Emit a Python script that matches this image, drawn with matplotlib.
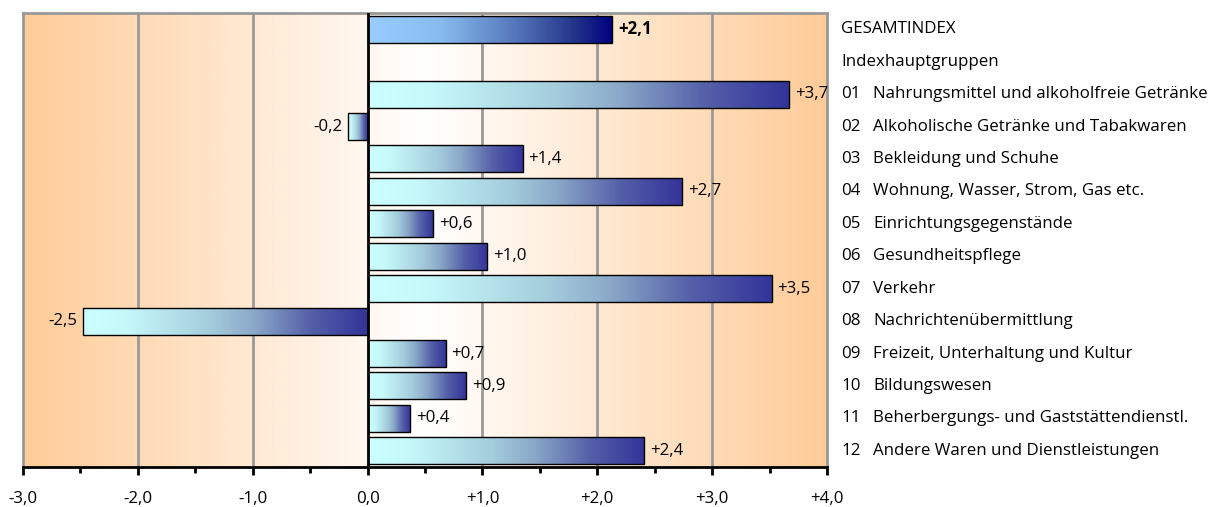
import numpy as np
import matplotlib
matplotlib.use('Agg')
import matplotlib.pyplot as plt
from matplotlib.colors import LinearSegmentedColormap
from matplotlib.patches import Rectangle
from matplotlib.ticker import MultipleLocator

plt.rcParams['font.family'] = ['Open Sans', 'DejaVu Sans']

# Data: rows from top to bottom (None = heading row without bar)
codes = ['', '', '01', '02', '03', '04', '05', '06', '07', '08', '09', '10', '11', '12']
names = ['GESAMTINDEX', 'Indexhauptgruppen',
         'Nahrungsmittel und alkoholfreie Getränke',
         'Alkoholische Getränke und Tabakwaren',
         'Bekleidung und Schuhe',
         'Wohnung, Wasser, Strom, Gas etc.',
         'Einrichtungsgegenstände',
         'Gesundheitspflege',
         'Verkehr',
         'Nachrichtenübermittlung',
         'Freizeit, Unterhaltung und Kultur',
         'Bildungswesen',
         'Beherbergungs- und Gaststättendienstl.',
         'Andere Waren und Dienstleistungen']
values = [2.13, None, 3.67, -0.17, 1.35, 2.74, 0.57, 1.04, 3.52, -2.48, 0.68, 0.86, 0.37, 2.41]
value_labels = ['+2,1', '', '+3,7', '-0,2', '+1,4', '+2,7', '+0,6', '+1,0',
                '+3,5', '-2,5', '+0,7', '+0,9', '+0,4', '+2,4']
xticks = [-3, -2, -1, 0, 1, 2, 3, 4]
xtick_labels = ['-3,0', '-2,0', '-1,0', '0,0', '+1,0', '+2,0', '+3,0', '+4,0']

FS = 12.2
W, H = 1220, 507
fig = plt.figure(figsize=(W / 100, H / 100), dpi=100)
ax = fig.add_axes([23 / W, 1 - 467 / H, (827 - 23) / W, (467 - 13) / H])
ax.set_xlim(-3, 4)
ax.set_ylim(13.5, -0.5)

# background gradient: orange at both edges, white in the middle
bg = LinearSegmentedColormap.from_list('bg', ['#FFCC99', '#FFFFFF', '#FFCC99'])
grad = np.linspace(0, 1, 512).reshape(1, -1)
ax.imshow(grad, cmap=bg, extent=(0, 1, 0, 1), transform=ax.transAxes,
          aspect='auto', zorder=0, interpolation='bilinear')

for x in [-2, -1, 1, 2, 3]:
    ax.axvline(x, color='#999999', lw=2, zorder=1)

cat_cmap = LinearSegmentedColormap.from_list(
    'cat', [(0, '#CCFFFF'), (0.15, '#C6F8FA'), (0.45, '#A4CCDC'),
            (0.6, '#8AA8C8'), (0.8, '#5560A8'), (1, '#333399')])
tot_cmap = LinearSegmentedColormap.from_list(
    'tot', [(0, '#99CCFF'), (0.3, '#88BBEE'), (0.6, '#5577BB'),
            (0.85, '#223388'), (1, '#000080')])
bar_h = 0.83
row_grad = np.linspace(0, 1, 256).reshape(1, -1)
for i, v in enumerate(values):
    if v is None:
        continue
    left, right = min(0, v), max(0, v)
    cmap = tot_cmap if i == 0 else cat_cmap
    ax.imshow(row_grad, cmap=cmap, extent=(left, right, i + bar_h / 2, i - bar_h / 2),
              aspect='auto', zorder=2, interpolation='bilinear')
    ax.add_patch(Rectangle((left, i - bar_h / 2), right - left, bar_h, fill=False,
                           edgecolor='black', lw=1, zorder=3))
    weight = 'bold' if i == 0 else 'normal'
    if v >= 0:
        ax.text(v + 0.05, i, value_labels[i], ha='left', va='center', fontsize=FS,
                fontweight=weight, zorder=4)
    else:
        ax.text(v - 0.05, i, value_labels[i], ha='right', va='center', fontsize=FS,
                fontweight=weight, zorder=4)

ax.set_xlim(-3, 4)
ax.set_ylim(13.5, -0.5)
ax.axvline(0, color='black', lw=2, zorder=3)

# row labels on the right of the plot
for i, (c, n) in enumerate(zip(codes, names)):
    yf = 1 - (13 + (i + 0.5) * 32.43) / H
    if c:
        fig.text(841 / W, yf, c, ha='left', va='center', fontsize=FS)
        fig.text(873 / W, yf, n, ha='left', va='center', fontsize=FS)
    else:
        fig.text(841 / W, yf, n, ha='left', va='center', fontsize=FS)

for s in ['left', 'top', 'right']:
    ax.spines[s].set_color('#999999')
    ax.spines[s].set_linewidth(2)
ax.spines['bottom'].set_color('black')
ax.spines['bottom'].set_linewidth(2)
ax.spines['bottom'].set_zorder(5)

ax.set_yticks([])
ax.set_xticks(xticks)
ax.set_xticklabels(xtick_labels, fontsize=FS)
ax.xaxis.set_minor_locator(MultipleLocator(0.5))
ax.tick_params(axis='x', which='major', length=6, width=2, direction='out', pad=11)
ax.tick_params(axis='x', which='minor', length=4, width=2, direction='out')

fig.savefig('out.png', dpi=100)
